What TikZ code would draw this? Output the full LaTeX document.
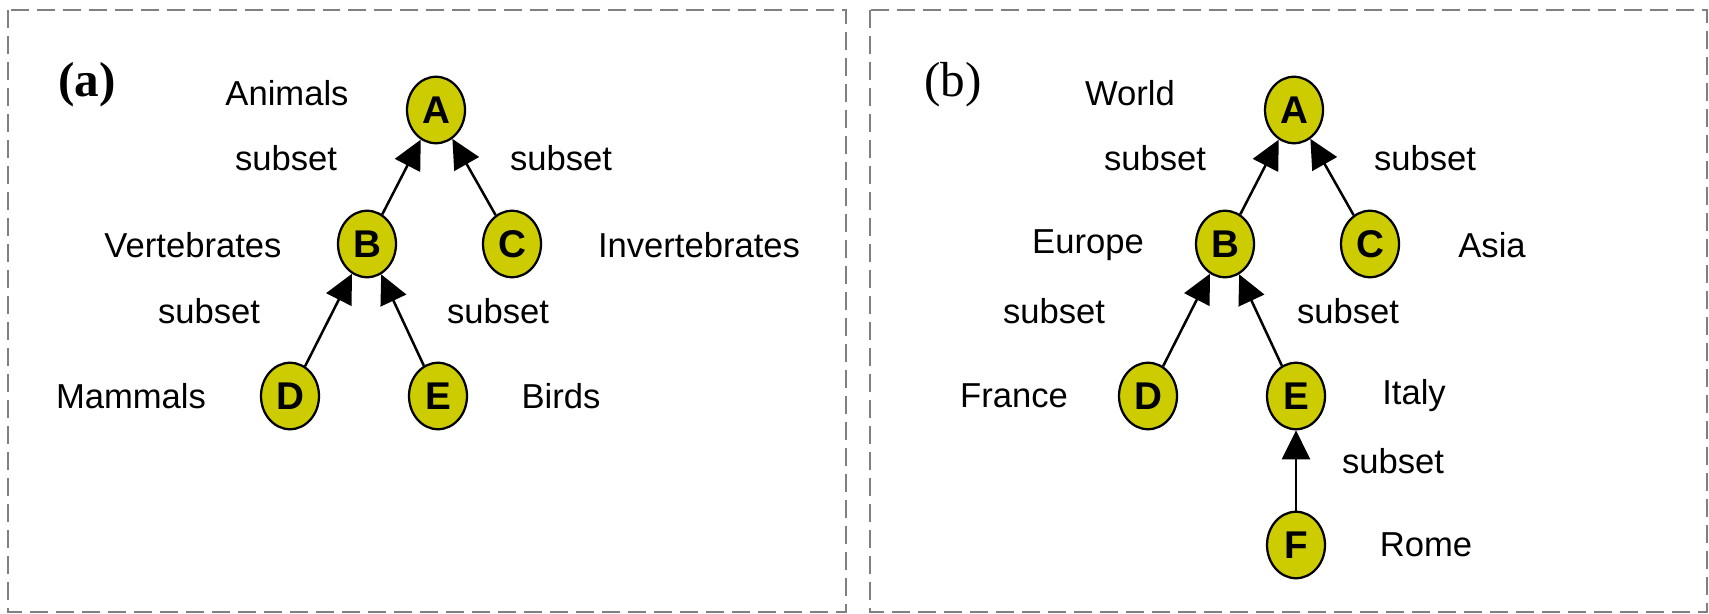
\documentclass[tikz,border=0pt]{standalone}
\usepackage{fontspec}
\setmainfont{Liberation Sans}
\newfontfamily\tagfont{Liberation Serif}
\usetikzlibrary{arrows.meta,shapes.geometric}
\definecolor{setfill}{HTML}{CCCC00}
\begin{document}
\begin{tikzpicture}[
        x=0.02cm, y=-0.02cm,
        line cap=butt,
        every node/.style={font=\fontsize{19.7}{22}\selectfont},
        setnode/.style={ellipse, draw=black, line width=0.045cm, fill=setfill,
            minimum width=1.16cm, minimum height=1.33cm, inner sep=0pt,
            font=\fontsize{22}{24}\selectfont\bfseries},
        subarrow/.style={line width=0.05cm, -{Triangle[length=0.58cm,width=0.56cm]}},
        panel/.style={draw=gray, line width=0.04cm, dash pattern=on 0.36cm off 0.16cm}
    ]
        \useasboundingbox (0,0) rectangle (1709,614);
        % Panels
        \draw[panel] (8,10) rectangle (846,612);
        \draw[panel] (870,10) rectangle (1707,612);
        % (a) animals
        \node (tagA) at (87,85) {\tagfont\fontsize{28}{30}\selectfont\bfseries (a)};
        \node[setnode] (aA) at (436,110) {A};
        \node[setnode] (aB) at (367,244) {B};
        \node[setnode] (aC) at (512,244) {C};
        \node[setnode] (aD) at (290,396) {D};
        \node[setnode] (aE) at (438,396) {E};
        \draw[subarrow] (aB) -- (aA);
        \draw[subarrow] (aC) -- (aA);
        \draw[subarrow] (aD) -- (aB);
        \draw[subarrow] (aE) -- (aB);
        \node (animals) at (287,93) {Animals};
        \node (vert) at (193,245) {Vertebrates};
        \node (invert) at (699,245) {Invertebrates};
        \node (mammals) at (131,396) {Mammals};
        \node (birds) at (561,396) {Birds};
        \node (subBA) at (286,158) {subset};
        \node (subCA) at (561,158) {subset};
        \node (subDB) at (209,311) {subset};
        \node (subEB) at (498,311) {subset};
        % (b) places
        \node (tagB) at (953,85) {\tagfont\fontsize{28}{30}\selectfont (b)};
        \node[setnode] (bA) at (1294,110) {A};
        \node[setnode] (bB) at (1225,244) {B};
        \node[setnode] (bC) at (1370,244) {C};
        \node[setnode] (bD) at (1148,396) {D};
        \node[setnode] (bE) at (1296,396) {E};
        \node[setnode] (bF) at (1296,545) {F};
        \draw[subarrow] (bB) -- (bA);
        \draw[subarrow] (bC) -- (bA);
        \draw[subarrow] (bD) -- (bB);
        \draw[subarrow] (bE) -- (bB);
        \draw[subarrow] (bF) -- (bE);
        \node (world) at (1130,93) {World};
        \node (europe) at (1088,245) {Europe};
        \node (asia) at (1492,245) {Asia};
        \node (france) at (1014,396) {France};
        \node (italy) at (1414,396) {Italy};
        \node (rome) at (1426,545) {Rome};
        \node (subBA2) at (1155,158) {subset};
        \node (subCA2) at (1425,158) {subset};
        \node (subDB2) at (1054,311) {subset};
        \node (subEB2) at (1348,311) {subset};
        \node (subFE2) at (1393,461) {subset};
    \end{tikzpicture}
\end{document}
